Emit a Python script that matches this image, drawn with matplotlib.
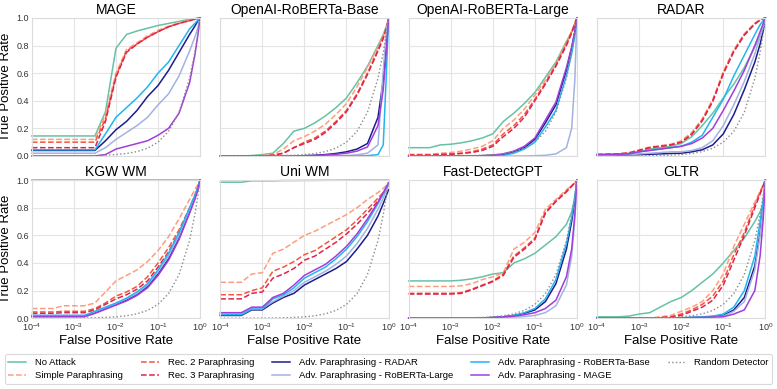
import matplotlib
matplotlib.use('Agg')
import matplotlib.pyplot as plt
from matplotlib.ticker import NullLocator, FixedLocator, FormatStrFormatter

plt.rcParams['font.family'] = ['Liberation Sans', 'DejaVu Sans']
plt.rcParams['mathtext.default'] = 'regular'

# ---------------- data ----------------
fpr_exponents = [-4, -3.75, -3.5, -3.25, -3, -2.75, -2.5, -2.25, -2, -1.75,
                 -1.5, -1.25, -1, -0.75, -0.5, -0.25, -0.125, -0.05, 0]
fpr = [10.0 ** e for e in fpr_exponents]
# random detector: TPR equals FPR
random_tpr = list(fpr)

titles = ["MAGE", "OpenAI-RoBERTa-Base", "OpenAI-RoBERTa-Large", "RADAR",
          "KGW WM", "Uni WM", "Fast-DetectGPT", "GLTR"]

series_labels = ["No Attack", "Simple Paraphrasing", "Rec. 2 Paraphrasing",
                 "Rec. 3 Paraphrasing", "Adv. Paraphrasing - RADAR",
                 "Adv. Paraphrasing - RoBERTa-Large",
                 "Adv. Paraphrasing - RoBERTa-Base", "Adv. Paraphrasing - MAGE"]

mage_tpr = [
    [0.145, 0.145, 0.145, 0.145, 0.145, 0.145, 0.145, 0.32, 0.78, 0.88, 0.905, 0.925, 0.945, 0.96, 0.975, 0.99, 0.995, 0.998, 1.0],
    [0.12, 0.12, 0.12, 0.12, 0.12, 0.12, 0.12, 0.30, 0.60, 0.77, 0.82, 0.87, 0.91, 0.94, 0.965, 0.985, 0.993, 0.997, 1.0],
    [0.10, 0.10, 0.10, 0.10, 0.10, 0.10, 0.10, 0.27, 0.58, 0.76, 0.81, 0.86, 0.90, 0.935, 0.96, 0.98, 0.99, 0.996, 1.0],
    [0.06, 0.06, 0.06, 0.06, 0.06, 0.06, 0.06, 0.25, 0.57, 0.75, 0.81, 0.86, 0.90, 0.935, 0.96, 0.98, 0.99, 0.996, 1.0],
    [0.04, 0.04, 0.04, 0.04, 0.04, 0.04, 0.04, 0.11, 0.19, 0.25, 0.33, 0.43, 0.51, 0.62, 0.75, 0.88, 0.94, 0.98, 1.0],
    [0.02, 0.02, 0.02, 0.02, 0.02, 0.02, 0.02, 0.06, 0.12, 0.17, 0.22, 0.28, 0.37, 0.45, 0.58, 0.76, 0.86, 0.93, 1.0],
    [0.045, 0.045, 0.045, 0.045, 0.045, 0.045, 0.045, 0.16, 0.28, 0.35, 0.42, 0.50, 0.60, 0.68, 0.80, 0.92, 0.96, 0.985, 1.0],
    [0.0, 0.0, 0.0, 0.0, 0.0, 0.0, 0.0, 0.01, 0.05, 0.07, 0.09, 0.11, 0.15, 0.20, 0.31, 0.53, 0.73, 0.88, 1.0],
]

roberta_base_tpr = [
    [0, 0, 0, 0.003, 0.01, 0.02, 0.09, 0.18, 0.20, 0.24, 0.29, 0.35, 0.42, 0.53, 0.65, 0.80, 0.88, 0.94, 0.99],
    [0, 0, 0, 0, 0.005, 0.01, 0.05, 0.11, 0.14, 0.18, 0.23, 0.30, 0.38, 0.50, 0.64, 0.79, 0.87, 0.93, 0.99],
    [0, 0, 0, 0, 0, 0.005, 0.02, 0.06, 0.10, 0.13, 0.18, 0.25, 0.33, 0.45, 0.60, 0.77, 0.86, 0.93, 0.99],
    [0, 0, 0, 0, 0, 0.005, 0.02, 0.06, 0.09, 0.12, 0.17, 0.24, 0.32, 0.44, 0.59, 0.76, 0.85, 0.92, 0.99],
    [0, 0, 0, 0, 0, 0, 0, 0, 0.002, 0.005, 0.01, 0.018, 0.03, 0.05, 0.09, 0.28, 0.55, 0.80, 0.99],
    [0, 0, 0, 0, 0, 0, 0, 0, 0, 0, 0, 0, 0.003, 0.008, 0.02, 0.08, 0.62, 0.90, 0.99],
    [0, 0, 0, 0, 0, 0, 0, 0, 0, 0, 0, 0, 0, 0, 0.002, 0.01, 0.08, 0.60, 0.99],
    [0, 0, 0, 0, 0, 0, 0, 0, 0.001, 0.003, 0.007, 0.012, 0.02, 0.035, 0.065, 0.22, 0.48, 0.77, 0.99],
]

roberta_large_tpr = [
    [0.06, 0.06, 0.06, 0.08, 0.085, 0.095, 0.11, 0.13, 0.16, 0.25, 0.31, 0.38, 0.46, 0.57, 0.68, 0.83, 0.90, 0.96, 1.0],
    [0.01, 0.01, 0.01, 0.02, 0.025, 0.035, 0.05, 0.07, 0.11, 0.20, 0.26, 0.34, 0.44, 0.55, 0.67, 0.82, 0.90, 0.96, 1.0],
    [0.01, 0.01, 0.01, 0.012, 0.015, 0.02, 0.03, 0.05, 0.08, 0.16, 0.22, 0.30, 0.41, 0.53, 0.66, 0.81, 0.90, 0.96, 1.0],
    [0.005, 0.005, 0.005, 0.01, 0.012, 0.018, 0.025, 0.04, 0.07, 0.14, 0.20, 0.28, 0.40, 0.52, 0.65, 0.80, 0.89, 0.95, 1.0],
    [0, 0, 0, 0, 0, 0, 0, 0.002, 0.005, 0.01, 0.03, 0.06, 0.12, 0.24, 0.37, 0.62, 0.78, 0.90, 1.0],
    [0, 0, 0, 0, 0, 0, 0, 0, 0, 0, 0, 0, 0.002, 0.005, 0.015, 0.06, 0.20, 0.55, 1.0],
    [0, 0, 0, 0, 0, 0, 0, 0, 0.002, 0.005, 0.02, 0.05, 0.10, 0.21, 0.33, 0.58, 0.74, 0.87, 1.0],
    [0, 0, 0, 0, 0, 0, 0, 0.002, 0.005, 0.015, 0.035, 0.07, 0.13, 0.26, 0.39, 0.64, 0.79, 0.90, 1.0],
]

radar_tpr = [
    [0.01, 0.012, 0.015, 0.02, 0.03, 0.05, 0.06, 0.07, 0.09, 0.14, 0.22, 0.31, 0.42, 0.52, 0.64, 0.79, 0.87, 0.93, 0.98],
    [0.01, 0.012, 0.015, 0.025, 0.045, 0.065, 0.075, 0.085, 0.11, 0.17, 0.27, 0.41, 0.61, 0.77, 0.885, 0.96, 0.985, 0.995, 1.0],
    [0.01, 0.012, 0.015, 0.02, 0.04, 0.06, 0.07, 0.08, 0.10, 0.16, 0.26, 0.40, 0.60, 0.76, 0.88, 0.96, 0.985, 0.995, 1.0],
    [0.01, 0.012, 0.015, 0.02, 0.04, 0.06, 0.07, 0.08, 0.10, 0.155, 0.255, 0.395, 0.595, 0.755, 0.875, 0.955, 0.985, 0.995, 1.0],
    [0.005, 0.005, 0.005, 0.008, 0.01, 0.012, 0.015, 0.018, 0.02, 0.03, 0.045, 0.08, 0.16, 0.30, 0.48, 0.68, 0.81, 0.91, 1.0],
    [0.005, 0.005, 0.008, 0.01, 0.015, 0.02, 0.025, 0.03, 0.03, 0.04, 0.06, 0.11, 0.22, 0.37, 0.54, 0.74, 0.86, 0.94, 1.0],
    [0.01, 0.01, 0.012, 0.015, 0.03, 0.04, 0.05, 0.06, 0.07, 0.10, 0.15, 0.28, 0.41, 0.58, 0.73, 0.88, 0.95, 0.98, 1.0],
    [0.01, 0.01, 0.012, 0.015, 0.03, 0.04, 0.05, 0.06, 0.07, 0.09, 0.13, 0.20, 0.33, 0.47, 0.62, 0.80, 0.90, 0.96, 1.0],
]

kgw_tpr = [
    [1.0, 1.0, 1.0, 1.0, 1.0, 1.0, 1.0, 1.0, 1.0, 1.0, 1.0, 1.0, 1.0, 1.0, 1.0, 1.0, 1.0, 1.0, 1.0],
    [0.07, 0.07, 0.07, 0.09, 0.09, 0.09, 0.11, 0.19, 0.27, 0.31, 0.35, 0.41, 0.49, 0.59, 0.72, 0.86, 0.93, 0.97, 1.0],
    [0.045, 0.045, 0.045, 0.05, 0.05, 0.05, 0.07, 0.11, 0.16, 0.19, 0.23, 0.30, 0.40, 0.51, 0.64, 0.80, 0.89, 0.95, 1.0],
    [0.035, 0.035, 0.035, 0.04, 0.04, 0.04, 0.06, 0.10, 0.14, 0.17, 0.21, 0.27, 0.37, 0.48, 0.62, 0.79, 0.88, 0.95, 1.0],
    [0.015, 0.015, 0.015, 0.015, 0.015, 0.015, 0.04, 0.07, 0.10, 0.13, 0.17, 0.23, 0.32, 0.43, 0.58, 0.77, 0.87, 0.94, 1.0],
    [0.02, 0.02, 0.02, 0.02, 0.02, 0.02, 0.045, 0.075, 0.105, 0.14, 0.18, 0.24, 0.335, 0.45, 0.60, 0.785, 0.88, 0.945, 1.0],
    [0.02, 0.02, 0.02, 0.02, 0.02, 0.02, 0.05, 0.08, 0.11, 0.145, 0.19, 0.25, 0.35, 0.47, 0.62, 0.80, 0.89, 0.95, 1.0],
    [0.01, 0.01, 0.01, 0.01, 0.01, 0.01, 0.035, 0.065, 0.095, 0.125, 0.165, 0.22, 0.31, 0.42, 0.57, 0.76, 0.86, 0.93, 1.0],
]

uni_tpr = [
    [0.985, 0.985, 0.985, 0.995, 0.995, 0.995, 0.997, 0.997, 0.998, 0.998, 0.999, 0.999, 1.0, 1.0, 1.0, 1.0, 1.0, 1.0, 1.0],
    [0.26, 0.26, 0.26, 0.32, 0.33, 0.47, 0.50, 0.55, 0.60, 0.63, 0.67, 0.71, 0.75, 0.80, 0.86, 0.91, 0.94, 0.96, 0.98],
    [0.17, 0.17, 0.17, 0.20, 0.22, 0.34, 0.37, 0.41, 0.46, 0.49, 0.54, 0.59, 0.64, 0.71, 0.79, 0.87, 0.91, 0.94, 0.97],
    [0.14, 0.14, 0.14, 0.18, 0.19, 0.29, 0.32, 0.36, 0.42, 0.45, 0.50, 0.55, 0.61, 0.68, 0.76, 0.85, 0.90, 0.93, 0.97],
    [0.02, 0.02, 0.02, 0.06, 0.06, 0.11, 0.15, 0.18, 0.24, 0.28, 0.32, 0.36, 0.41, 0.50, 0.60, 0.74, 0.83, 0.89, 0.93],
    [0.03, 0.03, 0.03, 0.07, 0.07, 0.12, 0.16, 0.20, 0.26, 0.30, 0.34, 0.39, 0.45, 0.54, 0.65, 0.79, 0.87, 0.93, 0.97],
    [0.025, 0.025, 0.025, 0.065, 0.065, 0.14, 0.17, 0.22, 0.29, 0.33, 0.37, 0.43, 0.50, 0.59, 0.70, 0.83, 0.90, 0.95, 0.98],
    [0.04, 0.04, 0.04, 0.08, 0.08, 0.15, 0.18, 0.24, 0.31, 0.35, 0.39, 0.45, 0.52, 0.61, 0.72, 0.84, 0.91, 0.95, 0.98],
]

fastdetect_tpr = [
    [0.27, 0.27, 0.27, 0.27, 0.27, 0.275, 0.285, 0.30, 0.32, 0.33, 0.40, 0.43, 0.47, 0.53, 0.59, 0.68, 0.77, 0.87, 1.0],
    [0.23, 0.23, 0.23, 0.23, 0.23, 0.235, 0.25, 0.28, 0.30, 0.33, 0.50, 0.55, 0.62, 0.79, 0.86, 0.93, 0.96, 0.98, 1.0],
    [0.18, 0.18, 0.18, 0.18, 0.18, 0.185, 0.21, 0.24, 0.27, 0.32, 0.45, 0.51, 0.58, 0.77, 0.85, 0.92, 0.96, 0.98, 1.0],
    [0.175, 0.175, 0.175, 0.175, 0.175, 0.18, 0.205, 0.235, 0.265, 0.31, 0.44, 0.50, 0.57, 0.76, 0.845, 0.915, 0.955, 0.98, 1.0],
    [0, 0, 0, 0, 0, 0, 0, 0.002, 0.005, 0.01, 0.02, 0.035, 0.06, 0.12, 0.25, 0.50, 0.70, 0.85, 1.0],
    [0, 0, 0, 0, 0, 0, 0, 0, 0.002, 0.005, 0.008, 0.012, 0.02, 0.04, 0.09, 0.24, 0.45, 0.72, 1.0],
    [0, 0, 0, 0, 0, 0, 0, 0.002, 0.005, 0.01, 0.02, 0.04, 0.07, 0.14, 0.28, 0.54, 0.73, 0.87, 1.0],
    [0, 0, 0, 0, 0, 0, 0, 0.002, 0.005, 0.01, 0.015, 0.025, 0.04, 0.07, 0.13, 0.30, 0.50, 0.75, 1.0],
]

gltr_tpr = [
    [0.01, 0.01, 0.01, 0.015, 0.03, 0.04, 0.08, 0.12, 0.15, 0.20, 0.26, 0.32, 0.40, 0.49, 0.58, 0.70, 0.77, 0.83, 0.90],
    [0, 0, 0, 0, 0, 0, 0.01, 0.02, 0.05, 0.08, 0.12, 0.20, 0.32, 0.52, 0.68, 0.84, 0.92, 0.97, 1.0],
    [0, 0, 0, 0, 0, 0, 0.005, 0.01, 0.03, 0.06, 0.10, 0.16, 0.27, 0.46, 0.62, 0.82, 0.91, 0.96, 1.0],
    [0, 0, 0, 0, 0, 0, 0.003, 0.008, 0.02, 0.05, 0.08, 0.13, 0.24, 0.42, 0.60, 0.80, 0.90, 0.96, 1.0],
    [0, 0, 0, 0, 0, 0, 0, 0, 0.002, 0.005, 0.008, 0.012, 0.02, 0.06, 0.15, 0.38, 0.62, 0.82, 1.0],
    [0, 0, 0, 0, 0, 0, 0, 0, 0.002, 0.004, 0.007, 0.01, 0.015, 0.05, 0.12, 0.35, 0.60, 0.80, 1.0],
    [0, 0, 0, 0, 0, 0, 0, 0, 0.003, 0.006, 0.01, 0.015, 0.03, 0.08, 0.20, 0.45, 0.70, 0.86, 1.0],
    [0, 0, 0, 0, 0, 0, 0, 0, 0.002, 0.004, 0.006, 0.008, 0.01, 0.03, 0.06, 0.20, 0.45, 0.72, 1.0],
]

panels = [mage_tpr, roberta_base_tpr, roberta_large_tpr, radar_tpr,
          kgw_tpr, uni_tpr, fastdetect_tpr, gltr_tpr]

x_ticks = [1e-4, 1e-3, 1e-2, 1e-1, 1e0]
y_ticks = [0.0, 0.2, 0.4, 0.6, 0.8, 1.0]

# ---------------- styles ----------------
colors = ['#66c2a5', '#fc9e7e', '#f4553b', '#e0234e',
          '#1c1c8c', '#a3b2e0', '#22b5f0', '#a03ddb']
styles = ['-', '--', '--', '--', '-', '-', '-', '-']

fig, axes = plt.subplots(2, 4, figsize=(7.77, 3.89), dpi=100, sharex=True, sharey=True)
fig.subplots_adjust(left=0.041, right=0.985, top=0.954, bottom=0.182,
                    wspace=0.12, hspace=0.175)

for idx, (ax, title, data) in enumerate(zip(axes.flat, titles, panels)):
    for s, lab, c, ls in zip(data, series_labels, colors, styles):
        ax.plot(fpr, s, color=c, ls=ls, lw=1.1, label=lab, clip_on=False)
    ax.plot(fpr, random_tpr, color='#8a8a8a', ls=':', lw=1.0, label='Random Detector')
    ax.set_xscale('log')
    ax.set_xlim(1e-4, 1)
    ax.set_ylim(0, 1)
    ax.xaxis.set_major_locator(FixedLocator(x_ticks))
    ax.xaxis.set_minor_locator(NullLocator())
    ax.yaxis.set_major_locator(FixedLocator(y_ticks))
    ax.yaxis.set_major_formatter(FormatStrFormatter('%.1f'))
    ax.set_title(title, fontsize=10, pad=3)
    ax.grid(True, color='#e4e4e4', lw=0.8)
    ax.set_axisbelow(True)
    for sp in ax.spines.values():
        sp.set_color('#dcdcdc')
        sp.set_linewidth(0.8)
    ax.tick_params(length=0, labelsize=6.5, colors='#333333', pad=2)
    if idx % 4 == 0:
        ax.set_ylabel('True Positive Rate', fontsize=9.5, labelpad=3)
    if idx >= 4:
        ax.set_xlabel('False Positive Rate', fontsize=9.5, labelpad=2)

handles, labels = axes[0, 0].get_legend_handles_labels()
leg = fig.legend(handles, labels, loc='lower left',
                 bbox_to_anchor=(0.006, 0.013, 0.988, 0.08), mode='expand',
                 ncol=5, fontsize=6.8, frameon=True, handlelength=1.9,
                 handletextpad=0.9, borderaxespad=0, borderpad=0.4,
                 labelspacing=0.45, fancybox=True)
leg.get_frame().set_edgecolor('#d0d0d0')
leg.get_frame().set_linewidth(0.8)

fig.savefig('out.png', dpi=100)
